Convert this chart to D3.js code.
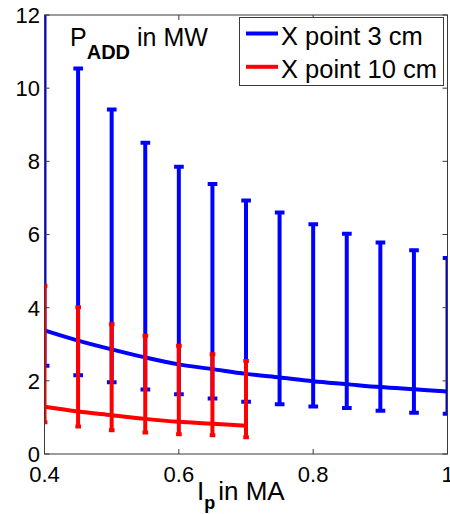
<!DOCTYPE html>
<html><head><meta charset="utf-8">
<script src="https://cdn.jsdelivr.net/npm/d3@7"></script>
<style>html,body{margin:0;padding:0;background:#fff;}svg{display:block;font-family:"Liberation Sans",Arial,sans-serif;}</style>
</head><body>
<script>
// ---- data ----
const ipBlue = [0.4,0.45,0.5,0.55,0.6,0.65,0.7,0.75,0.8,0.85,0.9,0.95,1.0];
const blueMid = [3.38,3.10,2.86,2.64,2.45,2.32,2.19,2.09,1.99,1.91,1.83,1.77,1.71];
const blueUpper = [12.05,10.54,9.42,8.51,7.85,7.38,6.93,6.60,6.28,6.02,5.78,5.57,5.36];
const blueLower = [2.41,2.15,1.96,1.76,1.63,1.52,1.43,1.36,1.30,1.26,1.18,1.13,1.10];

const ipRed = [0.4,0.45,0.5,0.55,0.6,0.65,0.7];
const redMid = [1.29,1.16,1.06,0.96,0.88,0.83,0.77];
const redUpper = [4.60,4.01,3.55,3.23,2.96,2.73,2.54];
const redLower = [0.87,0.75,0.65,0.59,0.54,0.51,0.46];

const xTicks = [0.4,0.6,0.8,1.0];
const xTickLabels = ["0.4","0.6","0.8","1"];
const yTicks = [0,2,4,6,8,10,12];
const seriesNames = ["X point 3 cm","X point 10 cm"];
const seriesColors = ["#0000ff","#ff0000"];

const W = 450, H = 514;
const m = {left:44.5, right:2.5, top:15, bottom:60};
const svg = d3.select("body").append("svg").attr("width",W).attr("height",H);
const x = d3.scaleLinear().domain([0.4,1.0]).range([m.left, W-m.right]);
const y = d3.scaleLinear().domain([0,12]).range([H-m.bottom, m.top]);

svg.append("defs").append("clipPath").attr("id","clip")
  .append("rect").attr("x",m.left).attr("y",m.top)
  .attr("width",x(1)-x(0.4)).attr("height",y(0)-y(12));

const plot = svg.append("g").attr("clip-path","url(#clip)");

function drawSeries(xs, mid, up, lo, color){
  const g = plot.append("g");
  const tee = (d3.max(xs)-d3.min(xs))/100;
  const line = d3.line().x((d,i)=>x(xs[i])).y(d=>y(d)).curve(d3.curveCatmullRom.alpha(0.5));
  g.append("path").datum(mid).attr("d",line).attr("fill","none")
    .attr("stroke",color).attr("stroke-width",4);
  xs.forEach((xv,i)=>{
    g.append("line").attr("x1",x(xv)).attr("x2",x(xv)).attr("y1",y(up[i])).attr("y2",y(lo[i]))
      .attr("stroke",color).attr("stroke-width",4);
    [up[i],lo[i]].forEach(v=>{
      g.append("line").attr("x1",x(xv-tee)-0.7).attr("x2",x(xv+tee)+0.9).attr("y1",y(v)).attr("y2",y(v))
        .attr("stroke",color).attr("stroke-width",4);
    });
  });
}
drawSeries(ipBlue, blueMid, blueUpper, blueLower, seriesColors[0]);
drawSeries(ipRed, redMid, redUpper, redLower, seriesColors[1]);

// axes box
const axColor = "#3a3a3a";
const tl = 5;
const ax = svg.append("g");
ax.append("rect").attr("x",m.left).attr("y",m.top).attr("width",x(1)-x(0.4)).attr("height",y(0)-y(12))
  .attr("fill","none").attr("stroke",axColor).attr("stroke-width",1);
xTicks.forEach((t,i)=>{
  ax.append("line").attr("x1",x(t)).attr("x2",x(t)).attr("y1",y(0)).attr("y2",y(0)-tl).attr("stroke",axColor);
  ax.append("line").attr("x1",x(t)).attr("x2",x(t)).attr("y1",y(12)).attr("y2",y(12)+tl).attr("stroke",axColor);
  ax.append("text").attr("x",x(t)).attr("y",y(0)+28).attr("text-anchor","middle")
    .attr("font-size",22).attr("fill","#000").text(xTickLabels[i]);
});
yTicks.forEach(t=>{
  ax.append("line").attr("x1",x(0.4)).attr("x2",x(0.4)+tl).attr("y1",y(t)).attr("y2",y(t)).attr("stroke",axColor);
  ax.append("line").attr("x1",x(1)).attr("x2",x(1)-tl).attr("y1",y(t)).attr("y2",y(t)).attr("stroke",axColor);
  ax.append("text").attr("x",40).attr("y",y(t)).attr("dy","0.36em").attr("text-anchor","end")
    .attr("font-size",22).attr("fill","#000").text(t);
});

// x label
const xl = svg.append("text").attr("x",197).attr("y",500).attr("font-size",26).attr("fill","#000");
xl.append("tspan").text("I");
xl.append("tspan").attr("dy",9).attr("font-size",18).attr("font-weight","bold").text("p");
xl.append("tspan").attr("dy",-9).attr("dx",3).text("in MA");

// in-plot label
const pl = svg.append("text").attr("x",70).attr("y",46).attr("font-size",25).attr("fill","#000");
pl.append("tspan").text("P");
pl.append("tspan").attr("dy",13).attr("font-size",20).attr("font-weight","bold").text("ADD");
pl.append("tspan").attr("dy",-13).attr("dx",7).text("in MW");

// legend
const lg = svg.append("g");
lg.append("rect").attr("x",239.5).attr("y",17.5).attr("width",204).attr("height",68)
  .attr("fill","#fff").attr("stroke",axColor).attr("stroke-width",1);
seriesNames.forEach((n,i)=>{
  const cy = 33.5 + i*33.3;
  lg.append("line").attr("x1",246).attr("x2",278).attr("y1",cy).attr("y2",cy)
    .attr("stroke",seriesColors[i]).attr("stroke-width",4);
  lg.append("text").attr("x",281).attr("y",cy+11.5).attr("font-size",25.5).attr("fill","#000").text(n);
});
</script>
</body></html>
